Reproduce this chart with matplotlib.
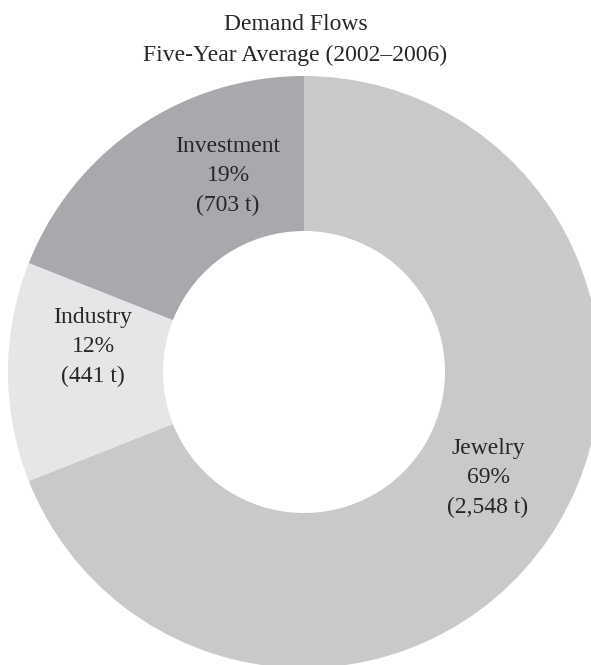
import matplotlib.pyplot as plt

# Gold demand flows, five-year average 2002-2006
categories = ['Jewelry', 'Industry', 'Investment']
shares = [69, 12, 19]
tonnes = ['2,548', '441', '703']
colors = ['#c8c9cb', '#e5e6e7', '#a8a9ac']

plt.rcParams['font.family'] = ['Liberation Serif', 'DejaVu Serif']

fig = plt.figure(figsize=(5.91, 6.65), dpi=100)
ax = fig.add_axes([0, 0, 1, 1])

# --- Donut: pixel-like coordinates, y pointing up ---
ax.pie(shares, colors=colors, startangle=90, counterclock=False,
       center=(304, 293), radius=296,
       wedgeprops=dict(width=155, linewidth=0))
ax.set_xlim(0, 591)
ax.set_ylim(0, 665)
ax.set_aspect('equal')
ax.axis('off')

# --- Wedge labels ---
label_pos = {'Jewelry': (488, 187), 'Industry': (93, 318), 'Investment': (228, 489)}
for name, pct, t in zip(categories, shares, tonnes):
    x, y = label_pos[name]
    ax.text(x, y, f'{name}\n{pct}%\n({t} t)', ha='center', va='center',
            fontsize=17, color='#2a2627', linespacing=1.55)

# --- Title ---
fig.text(0.5, 1 - 24 / 665, 'Demand Flows', ha='center', va='center',
         fontsize=17, color='#2a2627')
fig.text(0.5, 1 - 55 / 665, 'Five-Year Average (2002\u20132006)', ha='center',
         va='center', fontsize=17, color='#2a2627')

fig.savefig('out.png', dpi=100, facecolor='white')
